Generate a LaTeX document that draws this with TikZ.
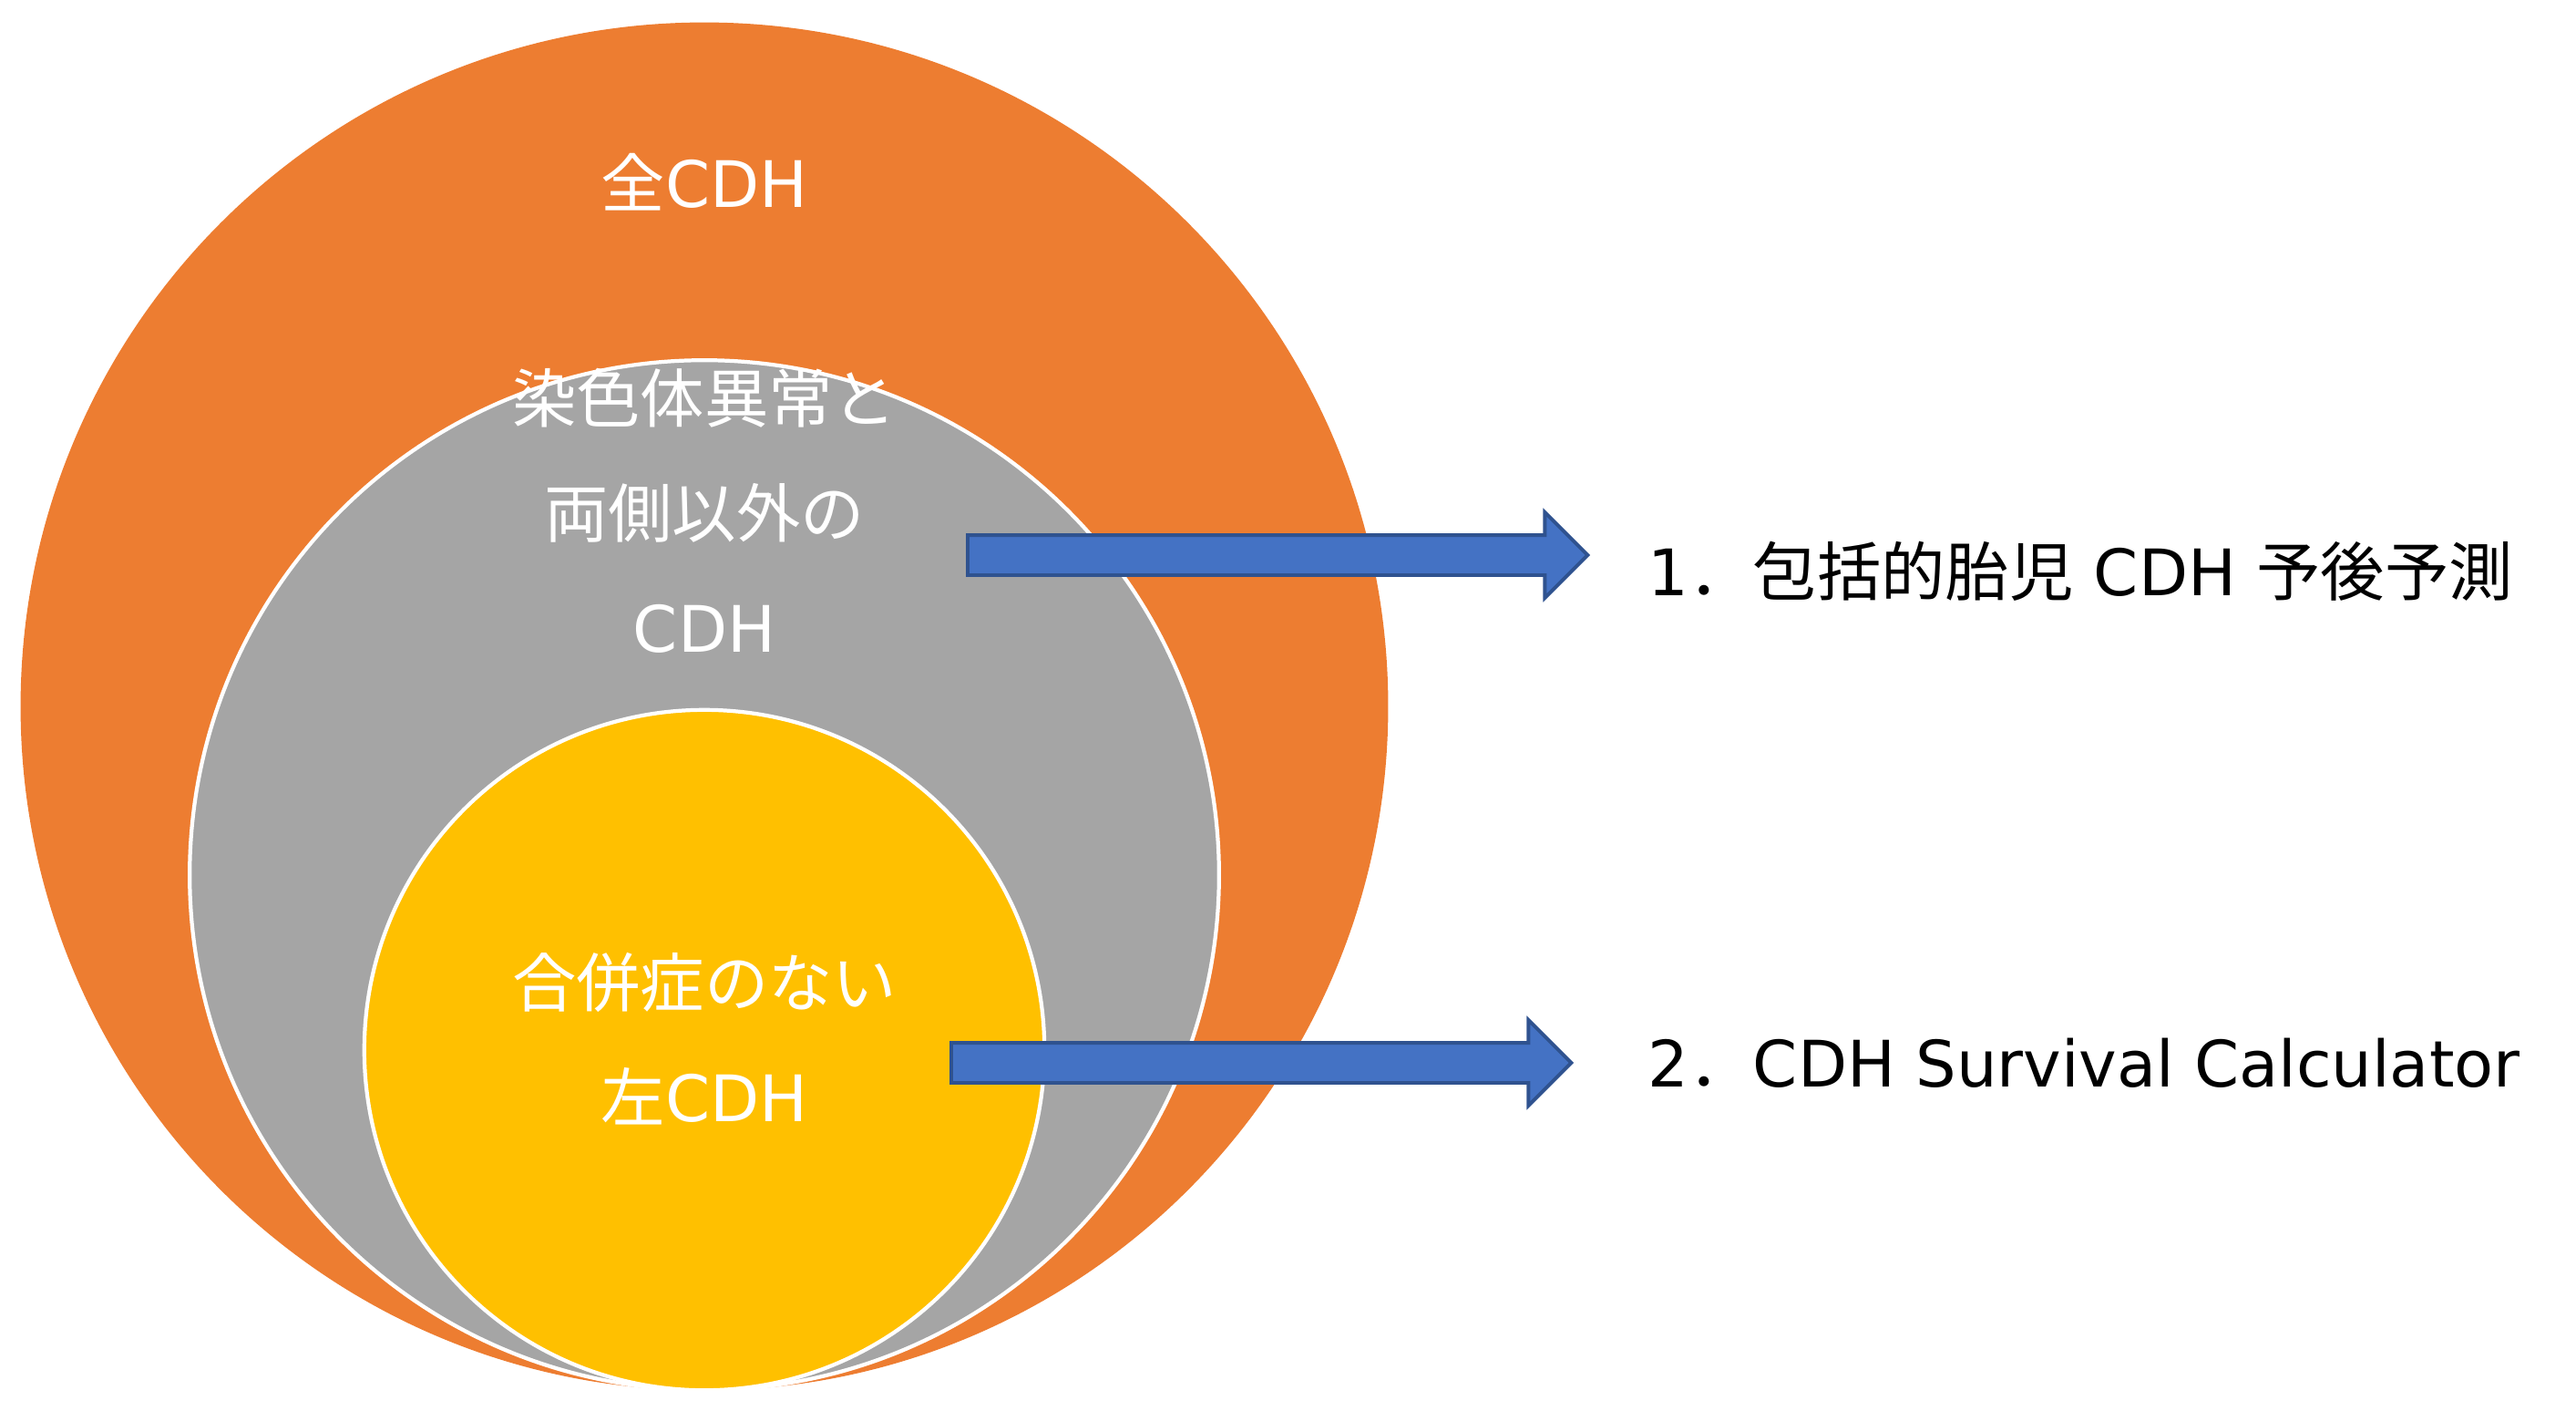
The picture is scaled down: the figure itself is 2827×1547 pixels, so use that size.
\documentclass[tikz,border=0pt]{standalone}
\usepackage{fontspec}
\usepackage{xcolor}
\usepackage{tikz}
\usetikzlibrary{shapes.arrows, positioning}
\setmainfont{DejaVu Sans}
\newfontfamily\jpfont{Noto Sans CJK JP}
\newcommand{\jp}[1]{{\jpfont #1}}
\definecolor{cdhorange}{RGB}{237, 125, 49}
\definecolor{cdhgray}{RGB}{165, 165, 165}
\definecolor{cdhyellow}{RGB}{255, 192, 0}
\definecolor{cdhblue}{RGB}{68, 114, 196}
\definecolor{cdhdarkblue}{RGB}{47, 82, 143}

\begin{document}
\begin{tikzpicture}[x=0.01cm, y=-0.01cm,
    setcircle/.style={circle, inner sep=0pt},
    setlabel/.style={text=white, font=\fontsize{20}{35.8}\selectfont, align=center},
    bigarrow/.style={single arrow, fill=cdhblue, draw=cdhdarkblue, line width=1.1pt,
        inner xsep=0pt, inner ysep=0.2cm, single arrow head extend=0.25cm,
        minimum height=6.8cm, anchor=tail},
    itemlabel/.style={font=\fontsize{20}{24}\selectfont, inner sep=0pt, anchor=west}]
    \useasboundingbox (0,0) rectangle (2827,1547);

    % nested sets
    \node[setcircle, fill=cdhorange, minimum size=15cm] (allcdh) at (773,775) {};
    \node[setcircle, fill=cdhgray, draw=white, line width=1.2pt, minimum size=11.29cm] (nobil) at (773,960) {};
    \node[setcircle, fill=cdhyellow, draw=white, line width=1.2pt, minimum size=7.46cm] (leftcdh) at (773,1152) {};

    \node[setlabel] (allcdhtext) at (773,200) {\jp{全}CDH};
    \node[setlabel] (nobiltext) at (773,560) {\jp{染色体異常と}\\\jp{両側以外の}\\CDH};
    \node[setlabel] (leftcdhtext) at (773,1140) {\jp{合併症のない}\\\jp{左}CDH};

    % models
    \node[bigarrow] (arr1) at (1060,609) {};
    \node[bigarrow] (arr2) at (1042,1166) {};

    \node[itemlabel, right=0.63cm of arr1.tip, yshift=-0.18cm] (model1) {1\jp{．包括的胎児} CDH \jp{予後予測}};
    \node[itemlabel, right=0.81cm of arr2.tip] (model2) {2\jp{．}CDH Survival Calculator};
\end{tikzpicture}
\end{document}
